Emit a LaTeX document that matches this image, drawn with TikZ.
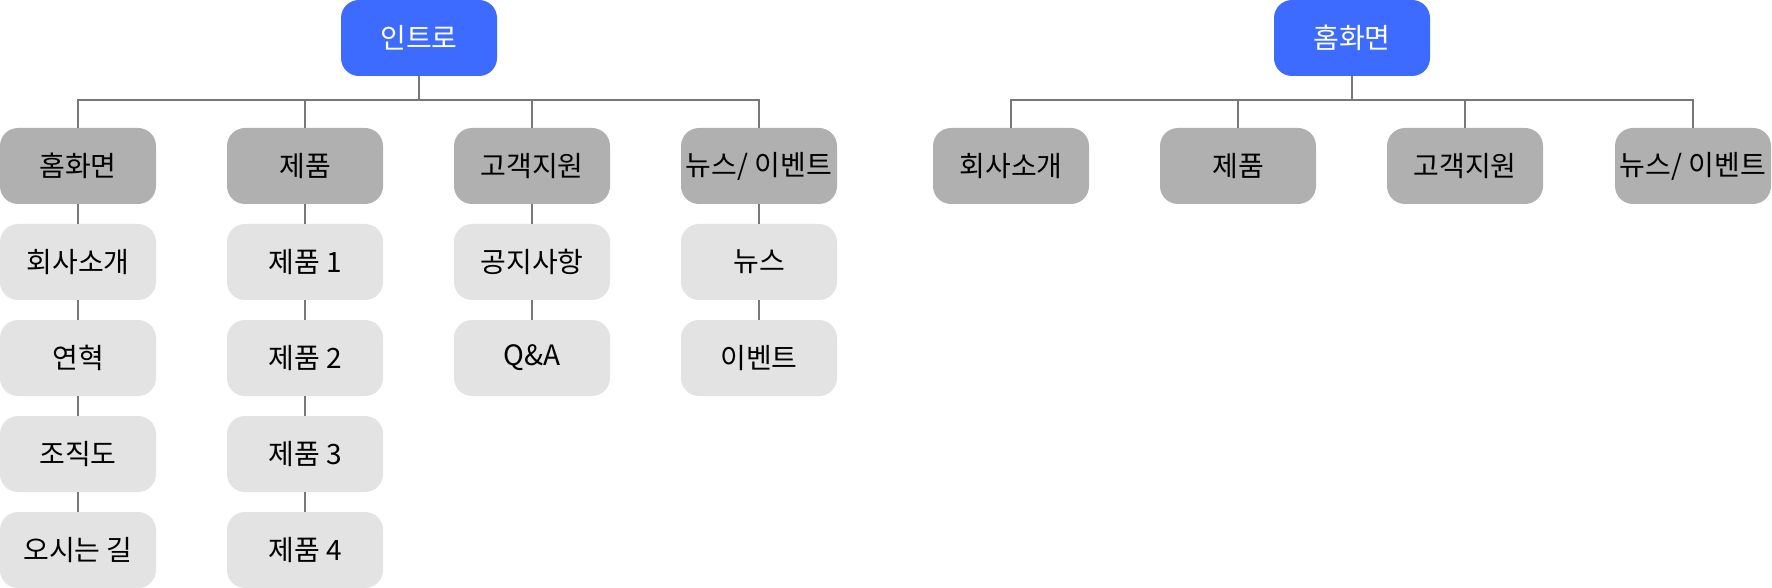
\documentclass[tikz,border=0pt]{standalone}
\usepackage{fontspec}
\setmainfont{Noto Sans CJK KR}
\definecolor{rootblue}{HTML}{3D6BFF}
\definecolor{midgray}{HTML}{B0B0B0}
\definecolor{lightgray}{HTML}{E3E3E3}
\definecolor{linegray}{HTML}{777777}
\tikzset{
  box/.style={rectangle, rounded corners=9pt, minimum width=78pt, minimum height=38pt,
    inner sep=0pt, font=\fontsize{14pt}{16pt}\selectfont},
  rootbox/.style={box, fill=rootblue, text=white},
  midbox/.style={box, fill=midgray, text=black},
  leafbox/.style={box, fill=lightgray, text=black},
  conn/.style={draw=linegray, line width=1pt},
}
\begin{document}
\begin{tikzpicture}[x=0.5pt,y=-0.5pt]
\useasboundingbox (0,0) rectangle (1772,588);
% left tree
\node[rootbox] (intro) at (419,38) {인트로};
\node[midbox] (home) at (78,166) {홈화면};
\node[midbox] (prod) at (305,166) {제품};
\node[midbox] (cs) at (532,166) {고객지원};
\node[midbox] (news) at (759,166) {뉴스/ 이벤트};
\node[leafbox] (h1) at (78,262) {회사소개};
\node[leafbox] (h2) at (78,358) {연혁};
\node[leafbox] (h3) at (78,454) {조직도};
\node[leafbox] (h4) at (78,550) {오시는 길};
\node[leafbox] (p1) at (305,262) {제품 1};
\node[leafbox] (p2) at (305,358) {제품 2};
\node[leafbox] (p3) at (305,454) {제품 3};
\node[leafbox] (p4) at (305,550) {제품 4};
\node[leafbox] (c1) at (532,262) {공지사항};
\node[leafbox] (c2) at (532,358) {Q\&A};
\node[leafbox] (n1) at (759,262) {뉴스};
\node[leafbox] (n2) at (759,358) {이벤트};
% right tree
\node[rootbox] (home2) at (1352,38) {홈화면};
\node[midbox] (r1) at (1011,166) {회사소개};
\node[midbox] (r2) at (1238,166) {제품};
\node[midbox] (r3) at (1465,166) {고객지원};
\node[midbox] (r4) at (1693,166) {뉴스/ 이벤트};
% connectors
\foreach \c in {home,prod,cs,news}
  \draw[conn] (intro.south) -- ++(0,23.5) -| (\c.north);
\foreach \c in {r1,r2,r3,r4}
  \draw[conn] (home2.south) -- ++(0,23.5) -| (\c.north);
\draw[conn] (home.south) -- (h1.north);
\draw[conn] (h1.south) -- (h2.north);
\draw[conn] (h2.south) -- (h3.north);
\draw[conn] (h3.south) -- (h4.north);
\draw[conn] (prod.south) -- (p1.north);
\draw[conn] (p1.south) -- (p2.north);
\draw[conn] (p2.south) -- (p3.north);
\draw[conn] (p3.south) -- (p4.north);
\draw[conn] (cs.south) -- (c1.north);
\draw[conn] (c1.south) -- (c2.north);
\draw[conn] (news.south) -- (n1.north);
\draw[conn] (n1.south) -- (n2.north);
\end{tikzpicture}
\end{document}
